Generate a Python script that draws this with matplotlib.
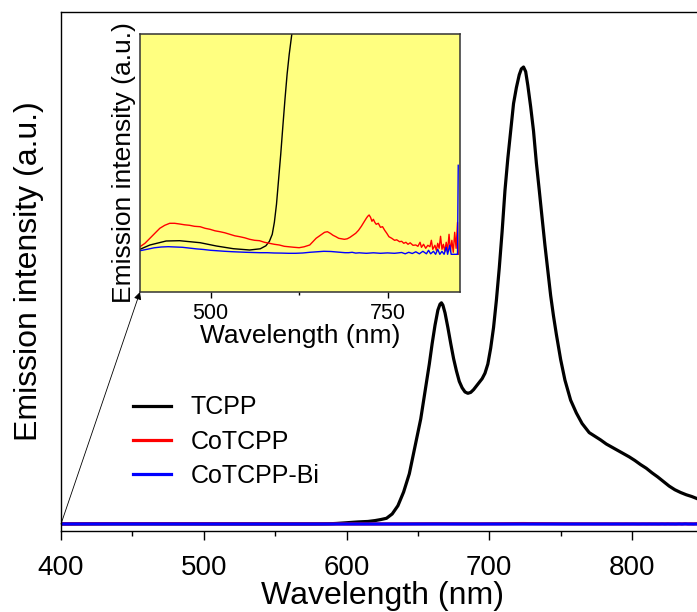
import matplotlib
matplotlib.use("Agg")
import matplotlib.pyplot as plt
from matplotlib.ticker import MultipleLocator, NullLocator

plt.rcParams['font.family'] = ['Liberation Sans', 'DejaVu Sans']

# ---------------- data (intensity in a.u.) ----------------
tcpp_wl = [400, 414, 437, 456, 485, 508, 532, 555, 570, 578, 583, 587, 590, 593, 596, 599,
           602, 605, 608, 611, 615, 620, 624, 628, 632, 636, 640, 644, 648, 652, 655, 658,
           660, 662, 664, 665.5, 666.5, 667.5, 669, 671, 673, 675, 677, 679, 681, 683, 685, 687,
           689, 691, 693, 695, 697, 699, 701, 703, 705, 707, 709, 711, 713, 715, 717, 719,
           721, 722.5, 724, 725.5, 727, 729, 731, 733, 735, 737, 739, 741, 743, 745, 747, 750,
           753, 757, 761, 765, 770, 774, 778, 782, 786, 790, 794, 798, 802, 806, 810, 814,
           818, 822, 826, 830, 834, 838, 842, 846, 850]
tcpp_I = [5, 9.3, 13.3, 13.6, 11.6, 8.3, 5.6, 4.3, 5.5, 8.5, 13, 20, 32, 50, 75, 100,
          128, 155, 180, 200, 222, 300, 390, 500, 880, 1600, 2800, 4400, 6800, 9200, 11600, 14000,
          15800, 17400, 18720, 19240, 19360, 19160, 18480, 17200, 15800, 14480, 13400, 12480, 11920, 11560, 11440, 11520,
          11760, 12080, 12400, 12720, 13200, 14000, 15400, 17200, 19600, 22400, 25600, 29200, 32000, 34400, 36800, 38200,
          39320, 39840, 40000, 39600, 38400, 36520, 34400, 31600, 29240, 26800, 24400, 22200, 20000, 18200, 16600, 14400,
          12600, 10840, 9720, 8800, 8000, 7680, 7360, 7000, 6720, 6440, 6160, 5880, 5560, 5200, 4880, 4480,
          4120, 3720, 3320, 3000, 2760, 2560, 2400, 2200, 2080]

cotcpp_wl = [400, 407, 414, 421, 428, 435, 442, 449, 456, 463, 470, 477, 485, 492, 499, 506,
             513, 520, 527, 534, 541, 548, 555, 562, 569, 576, 583, 590, 597, 604, 611, 618,
             625, 632, 640, 645, 649, 653, 657, 661, 665, 669, 673, 677, 681, 685, 689, 693,
             697, 701, 705, 709, 713, 717, 720, 722, 724, 726, 728, 730, 732, 734, 737, 740,
             743, 746, 749, 752, 756, 760, 763, 767, 770, 773, 776, 779, 782, 786, 790, 793,
             796, 798, 801, 804, 807, 810, 812, 814, 817, 819, 821, 823, 825, 827, 829, 831,
             833, 835, 837, 839, 841, 843, 845, 847, 849, 850]
cotcpp_I = [7.6, 11, 16, 21, 26, 29, 31, 31, 30.3, 29.5, 29, 28, 27.6, 26, 25, 23.5,
            22.6, 21.5, 20, 18.5, 17.6, 16.5, 15, 14, 13.6, 12, 11, 10, 9.3, 8, 7.5, 7,
            6.6, 7.5, 9.3, 13, 16, 18, 20, 22, 22.6, 21, 19, 17.6, 16, 15.5, 15, 15.5,
            17, 19, 21, 24, 28, 32.6, 36, 38, 39.3, 37, 33, 35, 32, 30, 31, 27,
            27.6, 24, 21, 17.6, 16, 14, 14.5, 12.6, 13, 11, 12, 10, 11.5, 9, 9.3, 8,
            12, 7, 10, 6, 9, 7.6, 14, 5, 9, 4, 11, 6, 18, 5, 10, 3,
            12, 4, 20, 3, 14, 2, 22, 6, 32, 0]

bi_wl = [400, 410, 420, 430, 440, 450, 460, 470, 480, 490, 500, 510, 520, 530, 540, 550,
         560, 570, 580, 590, 600, 610, 620, 630, 640, 650, 660, 670, 680, 690, 695, 700,
         705, 710, 720, 730, 740, 750, 760, 770, 775, 780, 785, 790, 795, 800, 805, 808,
         811, 815, 818, 821, 824, 827, 830, 833, 835, 838, 840, 842, 845, 848, 849, 850]
bi_I = [3.6, 5, 6.5, 7.3, 7.6, 7.3, 7, 6.2, 5.4, 4.8, 4, 3.5, 3, 2.6, 2.3, 2,
        1.8, 1.6, 1.6, 1.3, 1.2, 1, 1, 1.3, 2, 2.5, 3, 2.8, 2.2, 1.6, 1.6, 2,
        1.2, 1.5, 1, 1.5, 1, 1.4, 1, 1.8, 0.5, 2, 0.8, 2.5, 0.5, 3, 0.5, 4,
        0.5, 3, 0, 5, 0, 3, 0, 7, 0, 9, 0, 0, 0, 0, 0, 89]

labels = ['TCPP', 'CoTCPP', 'CoTCPP-Bi']
colors = ['black', '#ff0000', '#0000ff']
main_ticks = [400, 500, 600, 700, 800]
inset_ticks = [500, 750]

# ---------------- figure ----------------
W, H = 697, 612
fig = plt.figure(figsize=(W / 100, H / 100), dpi=100)

# main axes (right edge runs past the figure edge, as in the reference crop)
ax = fig.add_axes([61 / W, 1 - 531 / H, 642.4 / W, 519 / H])
series = [(tcpp_wl, tcpp_I), (cotcpp_wl, cotcpp_I), (bi_wl, bi_I)]
for (x, y), c, lab in zip(series, colors, labels):
    ax.plot(x, y, color=c, lw=2.3, label=lab, solid_joinstyle='round')
ax.set_xlim(400, 850)
ax.set_ylim(-612, 44816)
ax.set_xticks(main_ticks)
ax.xaxis.set_minor_locator(MultipleLocator(50))
ax.yaxis.set_major_locator(NullLocator())
ax.tick_params(axis='x', which='major', direction='out', length=6.5, width=1.0,
               labelsize=20, pad=10.5)
ax.tick_params(axis='x', which='minor', direction='out', length=3.5, width=1.0)
for s in ['left', 'bottom', 'top']:
    ax.spines[s].set_linewidth(1.0)
ax.spines['right'].set_visible(False)
ax.set_xlabel('Wavelength (nm)', fontsize=23, labelpad=0)
ax.set_ylabel('Emission intensity (a.u.)', fontsize=23, labelpad=12.5)

leg = ax.legend(loc='upper left', bbox_to_anchor=(133 / W, 1 - 395.5 / H),
                bbox_transform=fig.transFigure, frameon=False, fontsize=18,
                handlelength=1.5, handletextpad=0.8, labelspacing=0.41,
                borderpad=0, borderaxespad=0)
for h in leg.get_lines():
    h.set_linewidth(2.3)

# inset
ins = fig.add_axes([140 / W, 1 - 292 / H, 320 / W, 258 / H])
ins.set_facecolor('#ffff80')
for (x, y), c in zip(series, colors):
    ins.plot(x, y, color=c, lw=1.0)
ins.set_xlim(400, 852.5)
ins.set_ylim(-37.7, 220.3)
ins.set_xticks(inset_ticks)
ins.xaxis.set_minor_locator(MultipleLocator(125))
ins.yaxis.set_major_locator(NullLocator())
ins.tick_params(axis='x', which='major', direction='out', length=4, width=1.0,
                labelsize=15.5, pad=4)
ins.tick_params(axis='x', which='minor', direction='out', length=2.5, width=1.0)
for s in ins.spines.values():
    s.set_linewidth(1.1)
    s.set_color('#333333')
ins.set_xlabel('Wavelength (nm)', fontsize=19, labelpad=0)
ins.set_ylabel('Emission intensity (a.u.)', fontsize=19, labelpad=3)

# arrow from main origin to inset corner
ax.annotate('', xy=(0, 0), xycoords=ins.transAxes, xytext=(400, 0), textcoords='data',
            arrowprops=dict(arrowstyle='-|>', lw=0.6, color='black', mutation_scale=11,
                            shrinkA=0, shrinkB=0),
            annotation_clip=False)

fig.savefig('out.png', dpi=100)
